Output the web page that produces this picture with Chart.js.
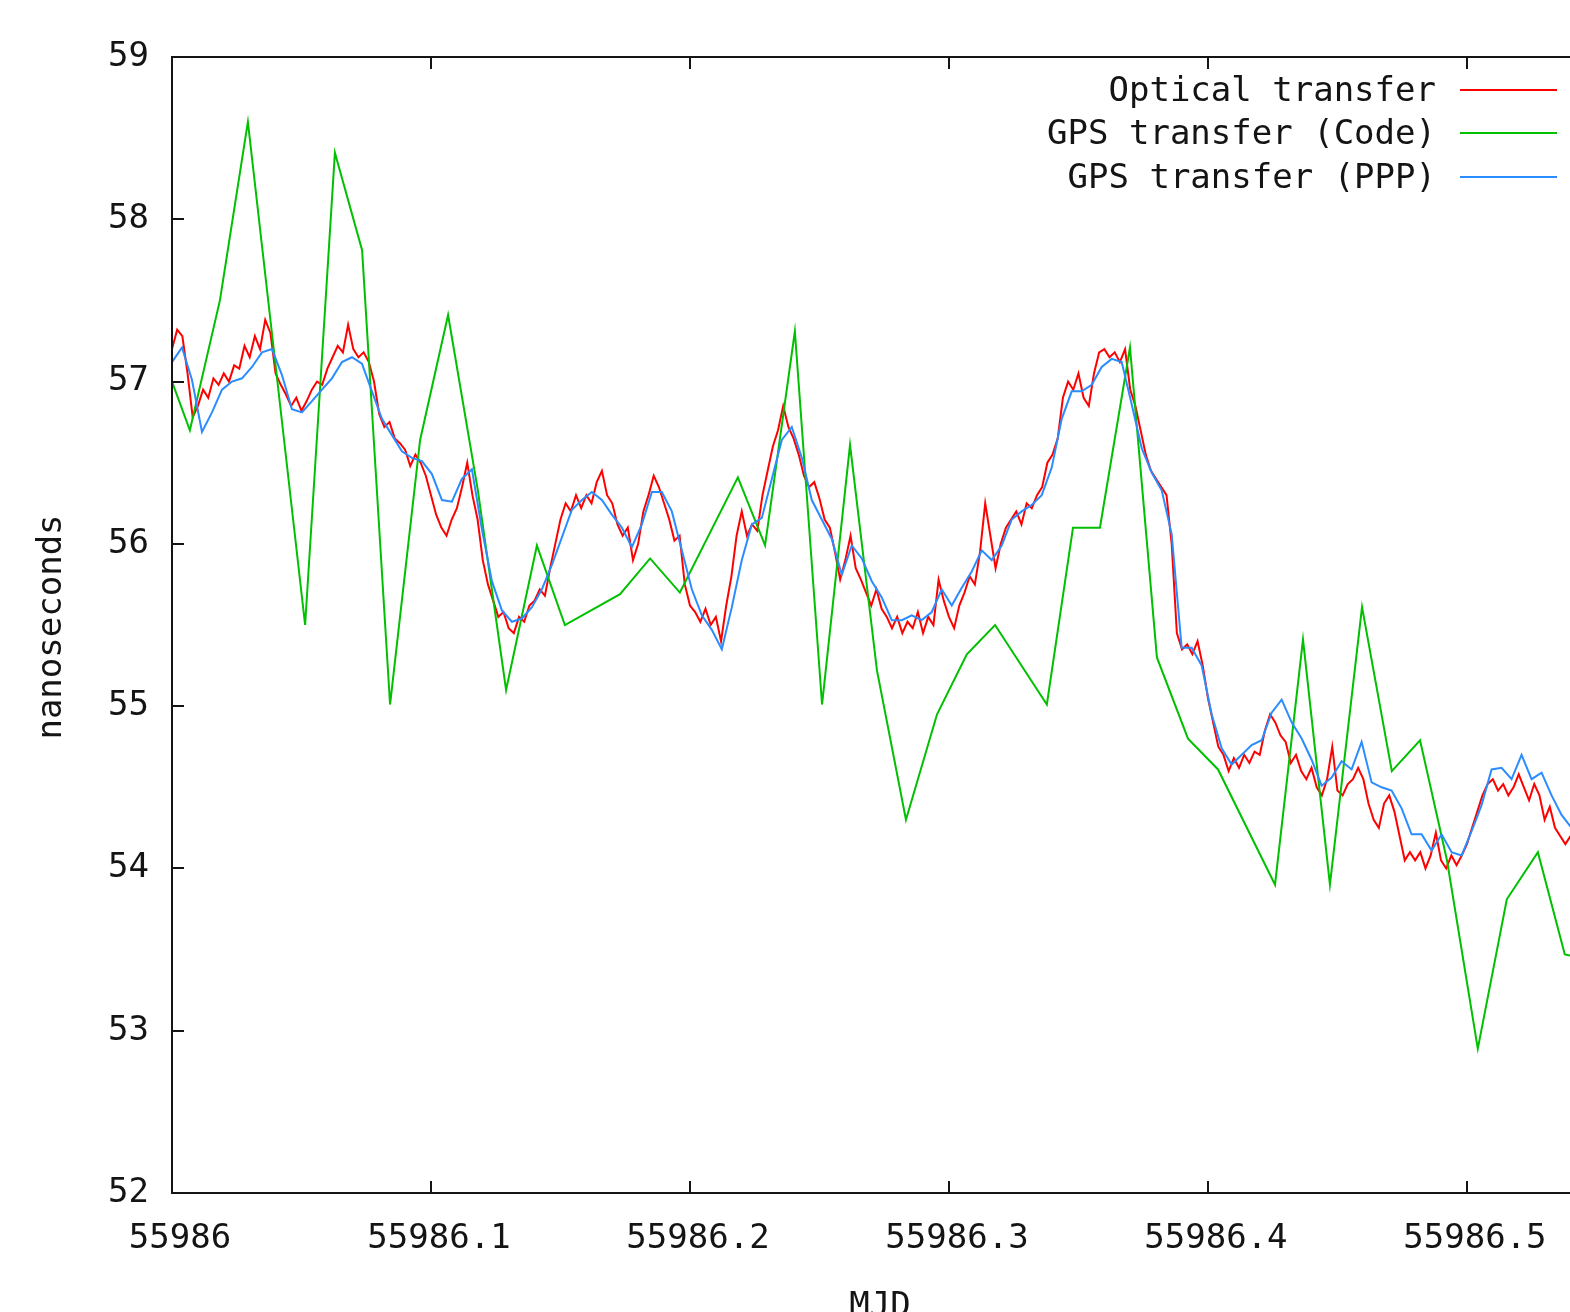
<!DOCTYPE html>
<html><head><meta charset="utf-8">
<script src="https://cdn.jsdelivr.net/npm/chart.js@4.4.1/dist/chart.umd.min.js"></script>
<style>html,body{margin:0;padding:0;background:#fff;overflow:hidden}canvas{display:block}</style>
</head><body>
<canvas id="c" width="1570" height="1312"></canvas>
<script>
// ---------- DATA ----------
const seriesNames = ["Optical transfer", "GPS transfer (Code)", "GPS transfer (PPP)"];
const xTickValues = [55986, 55986.1, 55986.2, 55986.3, 55986.4, 55986.5];
const yTickValues = [52, 53, 54, 55, 56, 57, 58, 59];
const xTitle = "MJD";
const yTitle = "nanoseconds";

// Optical transfer: samples every 0.002 MJD starting at 55986.0
const opticalStart = 55986.0;
const opticalStep = 0.002;
const opticalValues = [
57.20,57.32,57.28,57.05,56.78,56.85,56.95,56.90,57.02,56.98,
57.05,57.00,57.10,57.08,57.22,57.15,57.28,57.20,57.38,57.30,
57.05,56.98,56.92,56.85,56.90,56.82,56.88,56.95,57.00,56.98,
57.08,57.15,57.22,57.18,57.35,57.20,57.15,57.18,57.12,57.00,
56.80,56.72,56.75,56.65,56.62,56.58,56.48,56.55,56.50,56.42,
56.30,56.18,56.10,56.05,56.15,56.22,56.35,56.50,56.30,56.15,
55.90,55.75,55.65,55.55,55.58,55.48,55.45,55.55,55.52,55.62,
55.65,55.72,55.68,55.85,56.00,56.15,56.25,56.20,56.30,56.22,
56.30,56.25,56.38,56.45,56.30,56.25,56.12,56.05,56.10,55.90,
56.00,56.20,56.30,56.42,56.35,56.25,56.15,56.02,56.05,55.75,
55.62,55.58,55.52,55.60,55.50,55.55,55.40,55.62,55.80,56.05,
56.20,56.05,56.12,56.08,56.30,56.45,56.60,56.70,56.85,56.72,
56.65,56.55,56.42,56.35,56.38,56.28,56.15,56.10,55.95,55.78,
55.90,56.05,55.85,55.78,55.70,55.62,55.72,55.60,55.55,55.48,
55.55,55.45,55.52,55.48,55.58,55.45,55.55,55.50,55.78,55.65,
55.55,55.48,55.62,55.70,55.80,55.75,55.95,56.25,56.05,55.85,
56.00,56.10,56.15,56.20,56.12,56.25,56.22,56.30,56.35,56.50,
56.55,56.65,56.90,57.00,56.95,57.05,56.90,56.85,57.05,57.18,
57.20,57.15,57.18,57.12,57.20,56.95,56.85,56.70,56.55,56.45,
56.40,56.35,56.30,56.00,55.45,55.35,55.38,55.32,55.40,55.25,
55.05,54.90,54.75,54.70,54.60,54.68,54.62,54.70,54.65,54.72,
54.70,54.85,54.95,54.90,54.82,54.78,54.65,54.70,54.60,54.55,
54.62,54.50,54.45,54.55,54.75,54.48,54.45,54.52,54.55,54.62,
54.55,54.40,54.30,54.25,54.40,54.45,54.35,54.20,54.05,54.10,
54.05,54.10,54.00,54.08,54.22,54.05,54.00,54.08,54.02,54.08,
54.15,54.25,54.35,54.45,54.52,54.55,54.48,54.52,54.45,54.50,
54.58,54.50,54.42,54.52,54.45,54.30,54.38,54.25,54.20,54.15,
54.20,54.12,54.15
];

// GPS PPP: samples every 0.00386 MJD starting at 55986.0
const pppStart = 55986.0;
const pppStep = 0.00386;
const pppValues = [
57.12,57.21,57.01,56.69,56.81,56.95,57.00,57.02,57.09,57.18,
57.20,57.04,56.83,56.81,56.88,56.95,57.02,57.12,57.15,57.11,
56.94,56.77,56.67,56.57,56.53,56.51,56.43,56.27,56.26,56.40,
56.46,56.09,55.77,55.59,55.52,55.54,55.61,55.72,55.87,56.04,
56.21,56.27,56.32,56.27,56.18,56.10,55.98,56.12,56.32,56.32,
56.20,55.96,55.72,55.56,55.47,55.35,55.61,55.90,56.12,56.16,
56.40,56.64,56.72,56.53,56.27,56.15,56.03,55.81,55.99,55.91,
55.77,55.67,55.53,55.53,55.56,55.53,55.58,55.72,55.62,55.73,
55.83,55.96,55.90,55.99,56.15,56.20,56.24,56.30,56.47,56.77,
56.94,56.94,56.98,57.09,57.14,57.12,56.86,56.59,56.44,56.33,
56.06,55.36,55.36,55.25,54.95,54.74,54.64,54.70,54.76,54.79,
54.96,55.04,54.90,54.80,54.67,54.51,54.56,54.66,54.61,54.78,
54.53,54.50,54.48,54.37,54.21,54.21,54.11,54.21,54.10,54.08,
54.23,54.39,54.61,54.62,54.55,54.70,54.55,54.59,54.45,54.33,
54.25
];

// GPS Code (CGGTTS tracks)
const codeMjd = [
55986.0000,55986.0069,55986.0185,55986.0293,55986.0514,55986.0629,55986.0734,55986.0842,
55986.0958,55986.1066,55986.1181,55986.1290,55986.1409,55986.1517,55986.1730,55986.1846,
55986.1961,55986.2185,55986.2290,55986.2405,55986.2510,55986.2618,55986.2722,55986.2834,
55986.2954,55986.3069,55986.3178,55986.3378,55986.3479,55986.3583,55986.3699,55986.3803,
55986.3923,55986.4039,55986.4259,55986.4367,55986.4471,55986.4595,55986.4710,55986.4819,
55986.4923,55986.5042,55986.5154,55986.5274,55986.5378,55986.5436
];
const codeValues = [
57.00,56.70,57.50,58.60,55.50,58.41,57.81,55.01,
56.64,57.41,56.33,55.10,55.99,55.50,55.69,55.91,
55.70,56.41,55.99,57.31,55.01,56.61,55.22,54.30,
54.95,55.32,55.50,55.01,56.10,56.10,57.21,55.30,
54.80,54.61,53.90,55.41,53.90,55.61,54.60,54.79,
54.05,52.89,53.81,54.10,53.47,53.45
];

const seriesColors = ["#ff0000", "#00c000", "#2a8cff"];

// ---------- BUILD ----------
const opticalData = opticalValues.map((v, i) => ({x: opticalStart + i * opticalStep, y: v}));
const pppData = pppValues.map((v, i) => ({x: pppStart + i * pppStep, y: v}));
const codeData = codeValues.map((v, i) => ({x: codeMjd[i], y: v}));

const FONT = '"DejaVu Sans Mono", "Liberation Mono", monospace';
const FONT_SIZE = 34;
const INK = '#141414';

const framePlugin = {
  id: 'frame',
  afterDatasetsDraw(chart) {
    const {ctx, chartArea: a, scales: {x, y}} = chart;
    ctx.save();
    ctx.strokeStyle = INK;
    ctx.lineWidth = 2;
    ctx.beginPath();
    ctx.moveTo(a.right + 2, a.top); ctx.lineTo(a.left, a.top);
    ctx.lineTo(a.left, a.bottom); ctx.lineTo(a.right + 2, a.bottom);
    ctx.stroke();
    const tl = 12;
    ctx.beginPath();
    xTickValues.forEach(v => {
      const px = Math.round(x.getPixelForValue(v));
      ctx.moveTo(px, a.bottom); ctx.lineTo(px, a.bottom - tl);
      ctx.moveTo(px, a.top); ctx.lineTo(px, a.top + tl);
    });
    yTickValues.forEach(v => {
      const py = Math.round(y.getPixelForValue(v));
      ctx.moveTo(a.left, py); ctx.lineTo(a.left + tl, py);
    });
    ctx.stroke();

    // legend (gnuplot style: text right-aligned, sample on the right)
    ctx.font = FONT_SIZE + 'px ' + FONT;
    ctx.textAlign = 'right';
    ctx.textBaseline = 'middle';
    const rows = [90, 133, 177];
    const order = [0, 1, 2];
    order.forEach((di, r) => {
      const ds = chart.data.datasets[di];
      ctx.fillStyle = INK;
      ctx.fillText(ds.label, 1436, rows[r] + 2);
      ctx.strokeStyle = ds.borderColor;
      ctx.lineWidth = 2;
      ctx.beginPath();
      ctx.moveTo(1460, rows[r]); ctx.lineTo(1557, rows[r]);
      ctx.stroke();
    });

    // axis titles
    ctx.fillStyle = INK;
    ctx.textAlign = 'center';
    ctx.textBaseline = 'alphabetic';
    ctx.fillText(xTitle, (a.left + a.right) / 2 + 9, 1316);
    ctx.save();
    ctx.translate(61, (a.top + a.bottom) / 2 + 2);
    ctx.rotate(-Math.PI / 2);
    ctx.fillText(yTitle, 0, 0);
    ctx.restore();
    ctx.restore();
  }
};

new Chart(document.getElementById('c'), {
  type: 'line',
  data: {
    datasets: [
      {label: seriesNames[0], data: opticalData, borderColor: seriesColors[0], order: 2},
      {label: seriesNames[1], data: codeData, borderColor: seriesColors[1], order: 1},
      {label: seriesNames[2], data: pppData, borderColor: seriesColors[2], order: 0}
    ]
  },
  options: {
    responsive: false,
    animation: false,
    devicePixelRatio: 1,
    parsing: true,
    elements: {
      line: {borderWidth: 2, tension: 0, fill: false},
      point: {radius: 0, hoverRadius: 0}
    },
    layout: {padding: {top: 57, left: 0, right: 0, bottom: 0}},
    plugins: {legend: {display: false}, tooltip: {enabled: false}},
    scales: {
      x: {
        type: 'linear',
        min: 55986,
        max: 55986.5398,
        grid: {display: false, drawTicks: false},
        border: {display: false},
        afterFit: s => { s.height = 119; },
        afterBuildTicks: s => { s.ticks = xTickValues.map(v => ({value: v})); },
        ticks: {
          autoSkip: false, maxRotation: 0, minRotation: 0,
          padding: 26, labelOffset: 8,
          color: INK,
          font: {family: FONT, size: FONT_SIZE},
          callback: v => String(Math.round(v * 10) / 10)
        }
      },
      y: {
        type: 'linear',
        min: 52, max: 59,
        grid: {display: false, drawTicks: false},
        border: {display: false},
        afterFit: s => { s.width = 172; },
        afterBuildTicks: s => { s.ticks = yTickValues.map(v => ({value: v})); },
        ticks: {
          autoSkip: false,
          padding: 23,
          color: INK,
          font: {family: FONT, size: FONT_SIZE},
          callback: v => String(v)
        }
      }
    }
  },
  plugins: [framePlugin]
});
</script>
</body></html>
